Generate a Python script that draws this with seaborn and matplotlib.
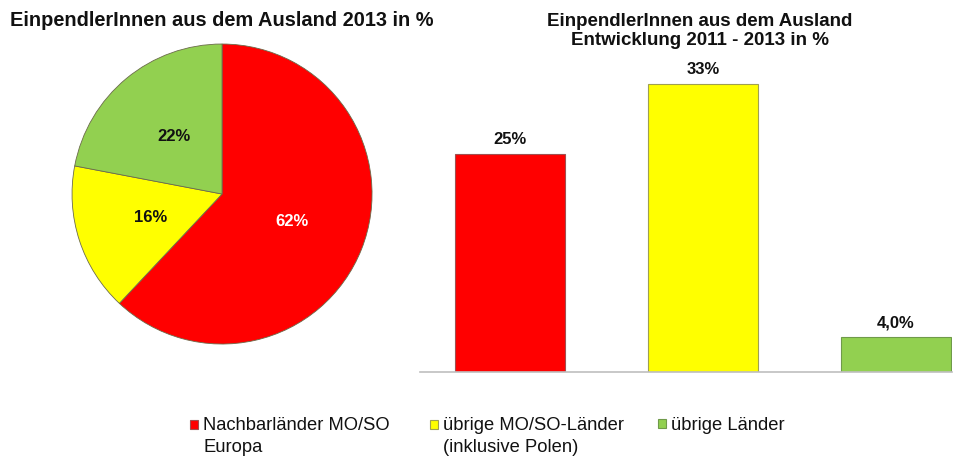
import matplotlib
matplotlib.use("Agg")
import matplotlib.pyplot as plt
import seaborn as sns
import pandas as pd
from matplotlib.patches import Patch, Rectangle
from matplotlib.legend_handler import HandlerPatch

sns.set_theme(style="white")
plt.rcParams['font.family'] = ['Liberation Sans', 'DejaVu Sans']

categories = ["Nachbarländer MO/SO\nEuropa", "übrige MO/SO-Länder\n(inklusive Polen)", "übrige Länder"]
pie_values = [62, 16, 22]
bar_values = [25, 33, 4.0]
bar_labels = ["25%", "33%", "4,0%"]
colors = ["#FF0000", "#FFFF00", "#92D050"]
edge_colors = ["#a05050", "#a0a050", "#6f9a4a"]

fig = plt.figure(figsize=(9.54, 4.59), dpi=100)

# Pie
axp = fig.add_axes([0.0755, 0.2505, 0.3145, 0.6536])
wedges, texts, autotexts = axp.pie(
    pie_values, colors=colors, startangle=90, counterclock=False,
    autopct=lambda p: f"{p:.0f}%", pctdistance=0.5,
    wedgeprops=dict(edgecolor="#6b6b4b", linewidth=0.6),
    textprops=dict(fontsize=12, fontweight="bold", color="#111111"))
autotexts[0].set_color("white")
axp.set_xlim(-1, 1)
axp.set_ylim(-1, 1)
axp.set_aspect("equal")
fig.text(10/954, 1-20/459, "EinpendlerInnen aus dem Ausland 2013 in %", ha="left", va="center",
         fontsize=14.4, fontweight="bold", color="#111111")

# Bars
axb = fig.add_axes([420/954, 87/459, 532/954, 312/459])
df = pd.DataFrame({"cat": categories, "val": bar_values})
sns.barplot(data=df, x="cat", y="val", hue="cat", palette=colors, width=0.57,
            legend=False, ax=axb, saturation=1)
for patch, ec in zip(axb.patches, edge_colors):
    patch.set_edgecolor(ec)
    patch.set_linewidth(0.8)
for i, (v, lab) in enumerate(zip(bar_values, bar_labels)):
    axb.annotate(lab, (i, v), xytext=(0, 5), textcoords="offset points",
                 ha="center", va="bottom", fontsize=12, fontweight="bold", color="#111111")
axb.set_xlim(-0.466, 2.29)
axb.set_ylim(0, 35.7)
axb.set_xticks([])
axb.set_yticks([])
axb.set_xlabel("")
axb.set_ylabel("")
for s in ["top", "left", "right"]:
    axb.spines[s].set_visible(False)
axb.spines["bottom"].set_color("#bfbfbf")
axb.spines["bottom"].set_linewidth(1.2)
fig.text(700/954, 1-31/459, "EinpendlerInnen aus dem Ausland\nEntwicklung 2011 - 2013 in %",
         ha="center", va="center", fontsize=13.5, fontweight="bold", color="#111111", linespacing=1.15)


# Legend (marker aligned to first text line)
def make_rect(offset):
    def f(legend, orig_handle, xdescent, ydescent, width, height, fontsize):
        return Rectangle((-xdescent, -ydescent + offset), width, height)
    return f


legend_x = [190, 430, 658]
for x, c, ec, lab in zip(legend_x, colors, edge_colors, categories):
    h = Patch(facecolor=c, edgecolor=ec, linewidth=0.8, label=lab)
    nlines = lab.count("\n")
    leg = fig.legend(handles=[h], loc="upper left", bbox_to_anchor=(x/954, 1-417/459),
                     frameon=False, fontsize=13.2, handlelength=0.42, handleheight=0.42,
                     handletextpad=0.3, borderpad=0, borderaxespad=0, labelspacing=0,
                     labelcolor="#111111",
                     handler_map={h: HandlerPatch(patch_func=make_rect(nlines * 8.6))})
    for t in leg.get_texts():
        t.set_linespacing(1.4)

fig.savefig("out.png", dpi=100, facecolor="white")
